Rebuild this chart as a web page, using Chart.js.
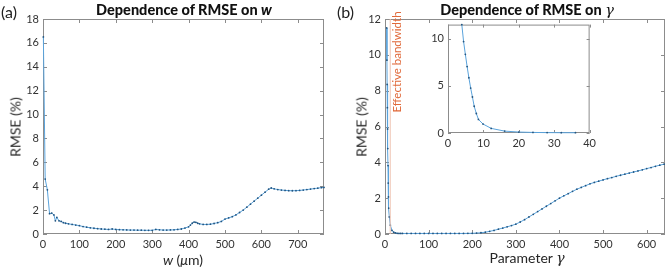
<!DOCTYPE html>
<html>
<head>
<meta charset="utf-8">
<script src="https://cdn.jsdelivr.net/npm/chart.js@4.4.1/dist/chart.umd.min.js"></script>
<style>
  body { margin: 0; background: #fff; font-family: Lato, "Open Sans", sans-serif; }
  #wrap { position: relative; width: 669px; height: 269px; overflow: hidden; }
  canvas { position: absolute; }
  .txt { position: absolute; white-space: nowrap; color: #262626; }
  .ttl { font-weight: 900; font-size: 14.5px; color: #111; transform: translateX(-50%); }
  .plab { font-size: 16px; color: #222; }
  .ylab { font-size: 14px; transform: translate(-50%, -50%) rotate(-90deg); }
  .xlab { font-size: 14px; transform: translateX(-50%); }
  .gr { font-family: "DejaVu Serif", serif; font-style: italic; }
</style>
</head>
<body>
<div id="wrap">
  <canvas id="cA" width="334" height="269" style="left:0;top:0"></canvas>
  <canvas id="cB" width="334" height="269" style="left:335px;top:0"></canvas>
  <canvas id="cI" width="180" height="135" style="left:420px;top:14px"></canvas>

  <div class="txt plab" style="left:1px;top:2px">(a)</div>
  <div class="txt plab" style="left:337px;top:2px">(b)</div>
  <div class="txt ttl" style="left:184px;top:1px">Dependence of RMSE on <i>w</i></div>
  <div class="txt ttl" style="left:527px;top:1px">Dependence of RMSE on <span class="gr" style="font-weight:normal">γ</span></div>
  <div class="txt ylab" style="left:15px;top:127px">RMSE (%)</div>
  <div class="txt ylab" style="left:361px;top:127px">RMSE (%)</div>
  <div class="txt xlab" style="left:183px;top:251px"><i>w</i> (<i>μ</i>m)</div>
  <div class="txt xlab" style="left:527px;top:249px">Parameter <span class="gr">γ</span></div>
</div>
<script>
// (a) RMSE vs window width w (µm)
const wVals = [1, 6, 12, 18, 24, 30, 34, 38, 44, 50, 56, 62, 70, 80, 90, 100, 110, 120, 130, 140,
  150, 160, 170, 180, 190, 200, 210, 220, 230, 240, 250, 260, 270, 280, 290, 300, 310, 320, 330, 340,
  350, 360, 370, 380, 390, 400, 405, 410, 415, 420, 425, 430, 440, 450, 460, 470, 480, 490, 500, 510,
  520, 530, 540, 550, 560, 570, 580, 590, 600, 610, 620, 627, 635, 645, 655, 665, 675, 685, 695, 705,
  715, 725, 735, 745, 755, 765, 772];
const rmseW = [16.5, 4.6, 3.7, 1.7, 1.75, 1.6, 1.1, 1.4, 1.1, 1.05, 0.95, 0.9, 0.85, 0.8, 0.75, 0.7, 0.62, 0.57, 0.52, 0.48,
  0.45, 0.42, 0.4, 0.38, 0.42, 0.38, 0.36, 0.35, 0.34, 0.33, 0.33, 0.32, 0.32, 0.31, 0.31, 0.31, 0.38, 0.35, 0.33, 0.33,
  0.34, 0.35, 0.38, 0.42, 0.5, 0.6, 0.75, 0.9, 1.0, 0.98, 0.9, 0.85, 0.8, 0.8, 0.82, 0.88, 0.95, 1.05, 1.25, 1.35,
  1.45, 1.6, 1.8, 2.0, 2.25, 2.5, 2.75, 3.0, 3.25, 3.5, 3.75, 3.85, 3.78, 3.72, 3.68, 3.65, 3.63, 3.62, 3.63, 3.65,
  3.68, 3.72, 3.76, 3.8, 3.84, 3.88, 3.9];

// (b) RMSE vs parameter gamma
const gVals = [3.9, 4.4, 4.9, 5.4, 5.9, 6.4, 6.9, 7.4, 8, 8.6, 9.9, 12.2, 16, 20, 24, 28, 32, 36, 40,
  50, 60, 70, 80, 90, 100, 110, 120, 130, 140, 150, 160, 170, 180, 190, 200, 210, 220, 230, 240,
  250, 260, 270, 280, 290, 300, 310, 320, 330, 340, 350, 360, 370, 380, 390, 400, 410, 420, 430, 440,
  450, 460, 470, 480, 490, 500, 510, 520, 530, 540, 550, 560, 570, 580, 590, 600, 610, 620, 630, 640];
const rmseG = [11.5, 9.7, 8.35, 7.05, 5.86, 4.77, 3.82, 2.84, 2.07, 1.44, 0.95, 0.49, 0.2, 0.1, 0.06, 0.04, 0.03, 0.03, 0.03,
  0.03, 0.03, 0.03, 0.03, 0.03, 0.03, 0.03, 0.03, 0.03, 0.03, 0.03, 0.03, 0.03, 0.03, 0.035, 0.04, 0.05, 0.07, 0.1, 0.15,
  0.2, 0.27, 0.33, 0.4, 0.47, 0.55, 0.67, 0.8, 0.95, 1.1, 1.25, 1.4, 1.55, 1.7, 1.85, 2.0, 2.13, 2.25, 2.38, 2.5,
  2.6, 2.7, 2.8, 2.88, 2.95, 3.02, 3.09, 3.15, 3.22, 3.28, 3.34, 3.4, 3.46, 3.52, 3.58, 3.65, 3.71, 3.78, 3.84, 3.9];

// the inset only shows the first part of the sweep (up to gamma = 36)
const insetCount = 18;
const bandwidthG = 12;

// tick labels
const ticksWx = [0, 100, 200, 300, 400, 500, 600, 700];
const ticksWy = [0, 2, 4, 6, 8, 10, 12, 14, 16, 18];
const ticksGx = [0, 100, 200, 300, 400, 500, 600];
const ticksGy = [0, 2, 4, 6, 8, 10, 12];
const ticksInsetX = [0, 10, 20, 30, 40];
const ticksInsetY = [0, 5, 10];

const xy = (xs, ys) => xs.map((x, i) => ({ x, y: ys[i] }));

// MATLAB-like box with inward ticks
const boxTicks = {
  id: 'boxTicks',
  beforeDatasetsDraw(chart) {
    const { ctx, chartArea: a, scales } = chart;
    ctx.save();
    ctx.strokeStyle = '#8c8c8c';
    ctx.lineWidth = 1;
    ctx.strokeRect(a.left + 0.5, a.top + 0.5, a.right - a.left - 1, a.bottom - a.top - 1);
    const tl = chart.options.tickLen || 3;
    ctx.beginPath();
    scales.x.ticks.forEach(t => {
      const px = Math.round(scales.x.getPixelForValue(t.value)) + 0.5;
      ctx.moveTo(px, a.bottom); ctx.lineTo(px, a.bottom - tl);
      ctx.moveTo(px, a.top); ctx.lineTo(px, a.top + tl);
    });
    scales.y.ticks.forEach(t => {
      const py = Math.round(scales.y.getPixelForValue(t.value)) + 0.5;
      ctx.moveTo(a.left, py); ctx.lineTo(a.left + tl, py);
      ctx.moveTo(a.right, py); ctx.lineTo(a.right - tl, py);
    });
    ctx.stroke();
    ctx.restore();
  }
};

const bwLabel = {
  id: 'bwLabel',
  afterDatasetsDraw(chart) {
    if (!chart.options.showBw) return;
    const { ctx, scales } = chart;
    const px = scales.x.getPixelForValue(bandwidthG) + 7;
    ctx.save();
    ctx.translate(px, scales.y.getPixelForValue(9.6));
    ctx.rotate(-Math.PI / 2);
    ctx.fillStyle = '#e0693a';
    ctx.font = '11.5px Lato, sans-serif';
    ctx.textAlign = 'center';
    ctx.textBaseline = 'middle';
    ctx.fillText('Effective bandwidth', 0, 0);
    ctx.restore();
  }
};

function lineSet(data) {
  return {
    data,
    borderColor: '#5aa3dc',
    borderWidth: 1,
    pointRadius: 0.9,
    pointBackgroundColor: '#24557f',
    pointBorderWidth: 0,
    tension: 0,
    clip: 2
  };
}

function axis(min, max, tickList, fit) {
  return {
    type: 'linear', min, max,
    grid: { display: false, drawTicks: false },
    border: { display: false },
    afterBuildTicks: s => { s.ticks = tickList.map(v => ({ value: v })); },
    ticks: {
      color: '#333', padding: 4,
      font: { family: 'Lato, sans-serif', size: 11 },
      maxRotation: 0, autoSkip: false
    },
    afterFit: fit
  };
}

function makeChart(id, datasets, opts) {
  return new Chart(document.getElementById(id), {
    type: 'line',
    data: { datasets },
    options: {
      responsive: false, animation: false,
      showBw: opts.showBw, tickLen: opts.tickLen,
      layout: { padding: opts.pad },
      plugins: { legend: { display: false }, tooltip: { enabled: false } },
      scales: {
        x: axis(opts.x[0], opts.x[1], opts.xt, s => { s.height = opts.xh; }),
        y: axis(opts.y[0], opts.y[1], opts.yt, s => { s.width = opts.yw; })
      }
    },
    plugins: [boxTicks, bwLabel]
  });
}

makeChart('cA', [lineSet(xy(wVals, rmseW))], {
  pad: { left: 0, top: 19, right: 10, bottom: 0 }, xh: 35, yw: 43,
  x: [0, 772], y: [0, 18], xt: ticksWx, yt: ticksWy, tickLen: 4
});

const bwLine = {
  data: [{ x: bandwidthG, y: 0 }, { x: bandwidthG, y: 12 }],
  borderColor: '#efc3b0', borderWidth: 1, pointRadius: 0
};

makeChart('cB', [bwLine, lineSet(xy(gVals, rmseG))], {
  pad: { left: 0, top: 19, right: 1, bottom: 0 }, xh: 35, yw: 50,
  x: [0, 642], y: [0, 12], xt: ticksGx, yt: ticksGy, tickLen: 4, showBw: true
});

makeChart('cI', [lineSet(xy(gVals.slice(0, insetCount), rmseG.slice(0, insetCount)))], {
  pad: { left: 0, top: 10, right: 8, bottom: 0 }, xh: 16, yw: 28,
  x: [0, 40], y: [0, 11.5], xt: ticksInsetX, yt: ticksInsetY, tickLen: 3
});
</script>
</body>
</html>
